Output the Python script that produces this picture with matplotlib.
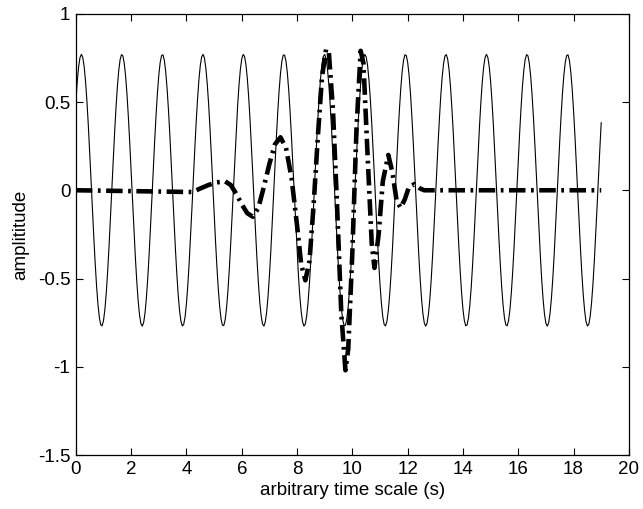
import numpy as np
import matplotlib
matplotlib.use("Agg")
import matplotlib.pyplot as plt

# carrier sine, values
sine_amp = 0.77
sine_period = 1.465      # s
sine_first_peak = 0.20   # s
t_end = 19.0

# wavelet-like burst (thick dash-dot)
burst_t = [0.0, 4.2, 4.5, 4.8, 5.1, 5.4, 5.6, 5.8, 6.0, 6.2, 6.4, 6.6, 6.8,
           7.0, 7.2, 7.4, 7.6, 7.8, 8.0, 8.15, 8.3, 8.45, 8.6, 8.75, 8.9,
           9.05, 9.15, 9.3, 9.45, 9.6, 9.75, 9.85, 10.0, 10.15, 10.3, 10.4,
           10.55, 10.7, 10.8, 10.95, 11.1, 11.3, 11.45, 11.6, 11.75, 11.9,
           12.05, 12.25, 12.45, 12.6, 19.0]
burst_y = [0.0, -0.01, 0.01, 0.03, 0.045, 0.05, 0.03, -0.02, -0.08, -0.13,
           -0.15, -0.10, 0.02, 0.15, 0.26, 0.30, 0.24, 0.07, -0.20, -0.42,
           -0.51, -0.40, -0.08, 0.30, 0.64, 0.80, 0.78, 0.45, -0.10, -0.70,
           -1.02, -0.90, -0.35, 0.35, 0.79, 0.72, 0.20, -0.30, -0.44, -0.25,
           0.05, 0.20, 0.10, -0.06, -0.10, -0.05, 0.02, 0.035, 0.01, 0.0, 0.0]

x_ticks = [0, 2, 4, 6, 8, 10, 12, 14, 16, 18, 20]
y_ticks = [-1.5, -1, -0.5, 0, 0.5, 1]
y_tick_labels = ['-1.5', '-1', '-0.5', '0', '0.5', '1']

plt.rcParams['font.family'] = ['Liberation Sans', 'DejaVu Sans']

fig = plt.figure(figsize=(6.43, 5.09), dpi=100)
ax = fig.add_axes([0.118, 0.106, 0.86, 0.867])

t = np.arange(0, t_end + 1e-9, 0.05)
sine = sine_amp * np.cos(2 * np.pi * (t - sine_first_peak) / sine_period)
ax.plot(t, sine, color='black', lw=0.8)

ax.plot(burst_t, burst_y, color='black', lw=3.3,
        ls=(0, (3.6, 1.2, 0.6, 1.2)), dash_capstyle='butt')

ax.set_xlim(0, 20)
ax.set_ylim(-1.5, 1)
ax.set_xticks(x_ticks)
ax.set_yticks(y_ticks)
ax.set_xticklabels([str(v) for v in x_ticks])
ax.set_yticklabels(y_tick_labels)
ax.tick_params(direction='in', top=True, right=True, length=5, width=0.8,
               labelsize=13.5, pad=4)
for s in ax.spines.values():
    s.set_linewidth(0.9)

ax.set_xlabel('arbitrary time scale (s)', fontsize=13.5, labelpad=3)
ax.set_ylabel('amplititude', fontsize=13.5, labelpad=6)

fig.savefig('out.png', dpi=100)
